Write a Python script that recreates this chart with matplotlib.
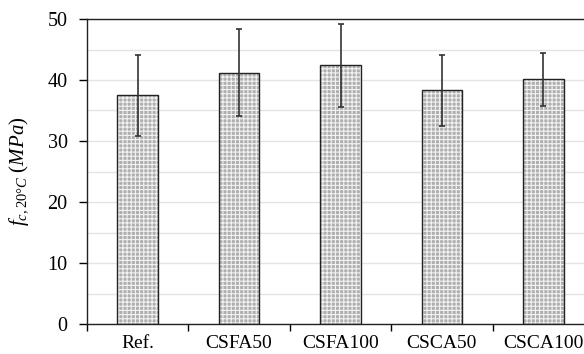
import numpy as np
import matplotlib.pyplot as plt

plt.rcParams['font.family'] = 'Liberation Serif'
plt.rcParams['mathtext.fontset'] = 'custom'
plt.rcParams['mathtext.it'] = 'Liberation Serif:italic'
plt.rcParams['mathtext.rm'] = 'Liberation Serif'
plt.rcParams['hatch.linewidth'] = 0.8

mixes = ['Ref.', 'CSFA50', 'CSFA100', 'CSCA50', 'CSCA100']
strength = [37.5, 41.2, 42.4, 38.3, 40.1]
std_dev = [6.6, 7.1, 6.8, 5.8, 4.3]

fig = plt.figure(figsize=(5.84, 3.54), dpi=100)
# plot area runs slightly past the right edge of the figure
ax = fig.add_axes([87 / 584, 30 / 354, 507 / 584, 305 / 354])

x = np.arange(len(mixes))
# dotted fill: gray face with white hatching, then a black outline on top
ax.bar(x, strength, width=0.4, color='#afafaf', edgecolor='#f2f2f2',
       hatch='++++', linewidth=0, zorder=2)
ax.bar(x, strength, width=0.4, fill=False, edgecolor='#222222',
       linewidth=1.0, zorder=3)
ax.errorbar(x, strength, yerr=std_dev, fmt='none', ecolor='#333333',
            elinewidth=1.2, capsize=2.5, capthick=1.2, zorder=4)

ax.set_xlim(-0.5, len(mixes) - 0.5)
ax.set_ylim(0, 50)
ax.set_yticks(np.arange(0, 51, 10))
ax.set_yticks(np.arange(5, 50, 10), minor=True)
ax.grid(axis='y', which='both', color='#e4e4e4', linewidth=1.0, zorder=0)
ax.set_axisbelow(True)

ax.set_xticks(x)
ax.set_xticklabels(mixes)
ax.set_xticks(np.arange(-0.5, len(mixes), 1.0), minor=True)
ax.tick_params(axis='x', which='major', length=0, pad=8, labelsize=14)
ax.tick_params(axis='x', which='minor', length=5, width=1.0, direction='out')
ax.tick_params(axis='y', which='major', length=6, width=1.0, labelsize=14.5, pad=8)
ax.tick_params(axis='y', which='minor', length=0)

for side in ['left', 'bottom', 'top', 'right']:
    ax.spines[side].set_color('#222222')
    ax.spines[side].set_linewidth(1.0)

ax.set_ylabel(r'$f_{c,20°C}$ $\mathit{(MPa)}$', fontsize=15, labelpad=12)

fig.savefig('out.png', dpi=100)
